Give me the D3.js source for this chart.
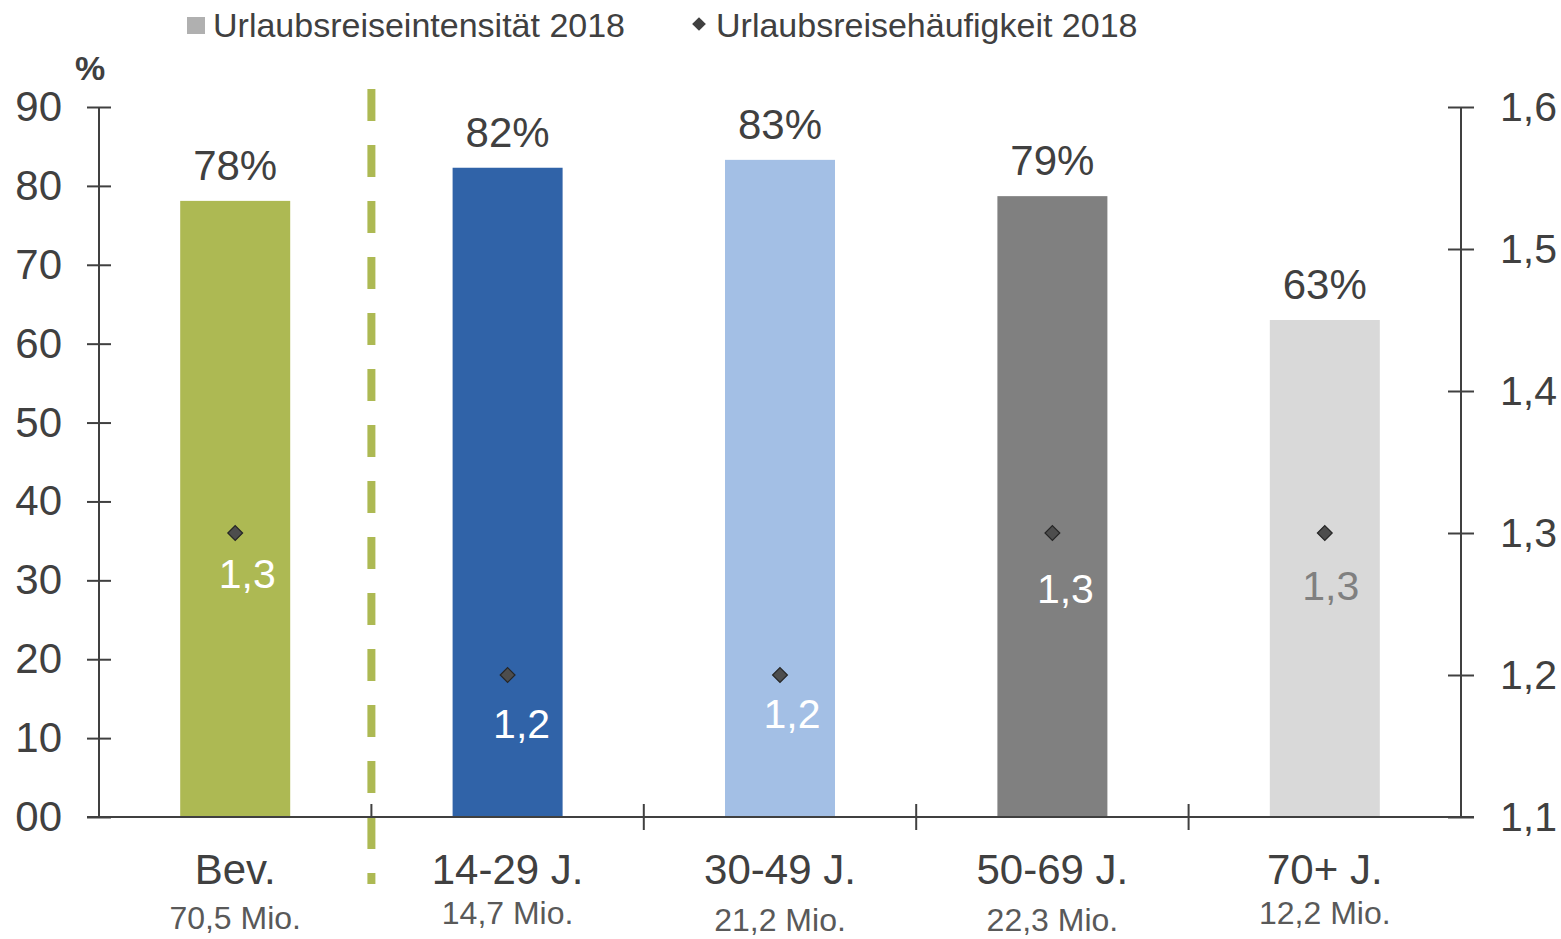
<!DOCTYPE html>
<html>
<head>
<meta charset="utf-8">
<script src="https://cdn.jsdelivr.net/npm/d3@7"></script>
<style>
  body { margin: 0; background: #fff; }
  svg { font-family: "Liberation Sans", Arial, sans-serif; }
</style>
</head>
<body>
<svg id="chart" width="1561" height="939"></svg>
<script>
// Daten
const categories = ["Bev.", "14-29 J.", "30-49 J.", "50-69 J.", "70+ J."];
const population = ["70,5 Mio.", "14,7 Mio.", "21,2 Mio.", "22,3 Mio.", "12,2 Mio."];
const intensity = [78.1, 82.3, 83.3, 78.7, 63.0];
const intensityLabels = ["78%", "82%", "83%", "79%", "63%"];
const frequency = [1.3, 1.2, 1.2, 1.3, 1.3];
const frequencyLabels = ["1,3", "1,2", "1,2", "1,3", "1,3"];
const leftTicks = [0, 10, 20, 30, 40, 50, 60, 70, 80, 90];
const rightTicks = [1.1, 1.2, 1.3, 1.4, 1.5, 1.6];

const barColors = ["#adb953", "#3063a8", "#a3bfe5", "#808080", "#d9d9d9"];
const freqLabelColors = ["#fff", "#fff", "#fff", "#fff", "#808080"];
// Versatz der Häufigkeits-Labels (wie im Original leicht unterschiedlich)
const freqLabelDx = [12, 14, 12, 13, 6];
const freqLabelDy = [55, 63, 53, 70, 67];
const popLabelY = [929, 924, 931, 931, 924];

const svg = d3.select("#chart");
const plotLeft = 99, plotRight = 1461, plotTop = 107, plotBottom = 817;

const x = d3.scaleBand().domain(categories).range([plotLeft, plotRight]);
const y = d3.scaleLinear().domain([0, 90]).range([plotBottom, plotTop]);
const y2 = d3.scaleLinear().domain([1.1, 1.6]).range([plotBottom, plotTop]);
const barW = 110;

// Balken
svg.selectAll(".bar")
  .data(intensity)
  .join("rect")
  .attr("x", (d, i) => x(categories[i]) + x.bandwidth() / 2 - barW / 2)
  .attr("y", d => y(d))
  .attr("width", barW)
  .attr("height", d => plotBottom - y(d))
  .attr("fill", (d, i) => barColors[i]);

// Prozent-Labels
svg.selectAll(".pct")
  .data(intensity)
  .join("text")
  .attr("x", (d, i) => x(categories[i]) + x.bandwidth() / 2)
  .attr("y", d => y(d) - 21)
  .attr("text-anchor", "middle")
  .attr("font-size", 42)
  .attr("fill", "#404040")
  .text((d, i) => intensityLabels[i]);

// x-Achse Ticks
svg.selectAll(".xtick")
  .data(categories.slice(1))
  .join("line")
  .attr("x1", d => x(d)).attr("x2", d => x(d))
  .attr("y1", plotBottom - 13).attr("y2", plotBottom + 13)
  .attr("stroke", "#404040").attr("stroke-width", 2);

// gestrichelte Trennlinie
svg.append("line")
  .attr("x1", x(categories[1])).attr("x2", x(categories[1]))
  .attr("y1", 89).attr("y2", 884)
  .attr("stroke", "#adb953").attr("stroke-width", 8)
  .attr("stroke-dasharray", "32,24");

// linke Achse
const gl = svg.append("g")
  .attr("transform", `translate(${plotLeft},0)`)
  .call(d3.axisLeft(y).tickValues(leftTicks).tickSize(12).tickFormat(d => d === 0 ? "00" : d));
gl.selectAll(".tick line").attr("x2", -12).attr("x1", 12);
gl.selectAll(".tick text").attr("font-size", 42).attr("fill", "#404040").attr("x", -37);

// rechte Achse
const gr = svg.append("g")
  .attr("transform", `translate(${plotRight},0)`)
  .call(d3.axisRight(y2).tickValues(rightTicks).tickSize(12).tickFormat(d => d3.format(".1f")(d).replace(".", ",")));
gr.selectAll(".tick line").attr("x1", -13).attr("x2", 13);
gr.selectAll(".tick text").attr("font-size", 41).attr("fill", "#404040").attr("x", 39);

[gl, gr].forEach(g => {
  g.attr("font-family", null);
  g.select(".domain").attr("stroke", "#404040").attr("stroke-width", 2).attr("d", `M0,${plotTop}V${plotBottom}`);
  g.selectAll(".tick line").attr("stroke", "#404040").attr("stroke-width", 2);
});

// x-Achse
svg.append("line")
  .attr("x1", plotLeft - 12).attr("x2", plotRight + 13)
  .attr("y1", plotBottom).attr("y2", plotBottom)
  .attr("stroke", "#404040").attr("stroke-width", 2);

// Kategorien
svg.selectAll(".cat")
  .data(categories)
  .join("text")
  .attr("x", d => x(d) + x.bandwidth() / 2)
  .attr("y", 884)
  .attr("text-anchor", "middle")
  .attr("font-size", 42)
  .attr("fill", "#404040")
  .text(d => d);

svg.selectAll(".pop")
  .data(population)
  .join("text")
  .attr("x", (d, i) => x(categories[i]) + x.bandwidth() / 2)
  .attr("y", (d, i) => popLabelY[i])
  .attr("text-anchor", "middle")
  .attr("font-size", 32)
  .attr("fill", "#595959")
  .text(d => d);

// Häufigkeit (Rauten)
const diamond = d3.symbol().type(d3.symbolDiamond2).size(140);
svg.selectAll(".dia")
  .data(frequency)
  .join("path")
  .attr("d", diamond)
  .attr("transform", (d, i) => `translate(${x(categories[i]) + x.bandwidth() / 2},${y2(d)})`)
  .attr("fill", "#4d4d4d")
  .attr("stroke", "#262626").attr("stroke-width", 1.2);

svg.selectAll(".freq")
  .data(frequency)
  .join("text")
  .attr("x", (d, i) => x(categories[i]) + x.bandwidth() / 2 + freqLabelDx[i])
  .attr("y", (d, i) => y2(d) + freqLabelDy[i])
  .attr("text-anchor", "middle")
  .attr("font-size", 41)
  .attr("fill", (d, i) => freqLabelColors[i])
  .text((d, i) => frequencyLabels[i]);

// Einheit
svg.append("text")
  .attr("x", 90).attr("y", 80)
  .attr("text-anchor", "middle")
  .attr("font-size", 34).attr("font-weight", "bold")
  .attr("fill", "#404040")
  .text("%");

// Legende
svg.append("rect").attr("x", 187).attr("y", 17).attr("width", 18).attr("height", 17).attr("fill", "#b0b0b0");
svg.append("text").attr("x", 213).attr("y", 37).attr("font-size", 34).attr("fill", "#404040")
  .text("Urlaubsreiseintensität 2018");
svg.append("path").attr("d", d3.symbol().type(d3.symbolDiamond2).size(120))
  .attr("transform", "translate(699,24)").attr("fill", "#404040");
svg.append("text").attr("x", 716).attr("y", 37).attr("font-size", 34).attr("fill", "#404040")
  .text("Urlaubsreisehäufigkeit 2018");
</script>
</body>
</html>
